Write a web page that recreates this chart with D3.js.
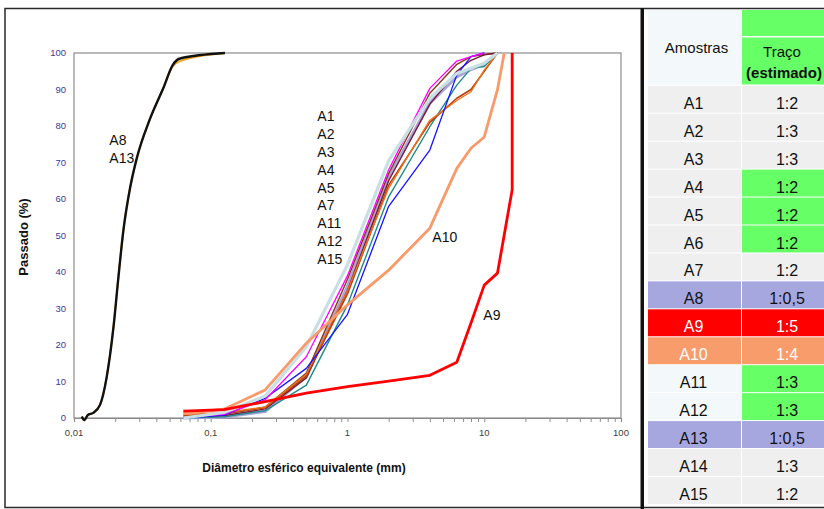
<!DOCTYPE html>
<html><head><meta charset="utf-8">
<script src="https://cdn.jsdelivr.net/npm/d3@7"></script>
<style>body{margin:0;background:#fff}svg{display:block}text{font-family:"Liberation Sans",Arial,sans-serif}</style>
</head><body>
<svg id="c" width="824" height="509"></svg>
<script>
// ---------- DATA ----------
const sieveSizes = [0.063, 0.125, 0.25, 0.5, 1, 2, 4, 6.3, 8, 10, 12.5];
const A1  = [0.2, 1.0, 5.0, 16.8, 39, 68, 90.3, 97.8, 99, 100, null];
const A2  = [0, 0.8, 5.4, 13.6, 28.4, 58, 73.4, 94, 99, 100, null];
const A3  = [0.3, 1.0, 3.0, 12.3, 38, 67, 89, 96.9, 99, 99.6, 100];
const A4  = [0, 0.3, 2.0, 9.0, 31, 60.6, 79.8, 91.2, 95.8, 96.3, 100];
const A5  = [1.0, 1.5, 3.0, 12.0, 35, 63, 81.6, 87, 89.4, 95.3, 100];
const A7  = [0.6, 1.3, 2.8, 11.5, 34, 63.8, 81, 87.6, 90, 95, 100];
const A11 = [0, 0.3, 1.8, 11.5, 36, 66, 86.3, 93.5, 95.5, 97, 100];
const A12 = [0.2, 0.6, 2.5, 11.0, 35, 65, 86, 95, 98, 99.5, 100];
const A15 = [0, 1.5, 6.0, 19.5, 42, 70.5, 87.6, 94.4, 95.8, 97.2, 100];

const a10Sizes = [0.063, 0.125, 0.25, 0.5, 1, 2, 4, 6.3, 8, 10, 12.5, 14];
const A10 = [1.2, 2.4, 7.7, 20.5, 31, 40.5, 52, 68.4, 73.9, 77, 90, 100];

const a9Sizes = [0.063, 0.125, 0.25, 0.5, 1, 2, 4, 6.3, 8, 10, 12.5, 16, 16];
const A9 = [1.9, 2.3, 4.5, 6.8, 8.6, 10.1, 11.7, 15.3, 26, 36.4, 39.7, 62.5, 100];

const laserSizes = [0.0114, 0.0119, 0.0126, 0.0138, 0.0155, 0.0173, 0.0194, 0.0211, 0.0229, 0.0257, 0.0287, 0.036, 0.045, 0.0527, 0.0596, 0.127];
const A8  = [0.4, -0.6, 0.8, 1.4, 3.6, 11, 24.6, 38.4, 51, 63, 71, 82, 90.4, 96.3, 97.8, 100];
const A13 = [0.4, -0.6, 0.8, 1.4, 3.6, 11, 24.6, 38.4, 51, 63, 71, 82, 90.4, 96.7, 98.5, 100];

const yTicks = [0, 10, 20, 30, 40, 50, 60, 70, 80, 90, 100];
const xTickLabels = ["0,01", "0,1", "1", "10", "100"];
const xMajor = [0.01, 0.1, 1, 10, 100];

const groupLabels = ["A1", "A2", "A3", "A4", "A5", "A7", "A11", "A12", "A15"];

const samples = ["A1","A2","A3","A4","A5","A6","A7","A8","A9","A10","A11","A12","A13","A14","A15"];
const traco = ["1:2","1:3","1:3","1:2","1:2","1:2","1:2","1:0,5","1:5","1:4","1:3","1:3","1:0,5","1:3","1:2"];

// ---------- STYLES ----------
const series = [
  {v: A11, sizes: sieveSizes, color: "#a9a4dc", w: 3.2},
  {v: A3,  sizes: sieveSizes, color: "#8b3a1a", w: 1.4},
  {v: A12, sizes: sieveSizes, color: "#7a1a3a", w: 1.4},
  {v: A4,  sizes: sieveSizes, color: "#1f8a8a", w: 1.4},
  {v: A7,  sizes: sieveSizes, color: "#b84010", w: 1.6},
  {v: A5,  sizes: sieveSizes, color: "#f07018", w: 1.3},
  {v: A2,  sizes: sieveSizes, color: "#1414ff", w: 1.3},
  {v: A1,  sizes: sieveSizes, color: "#ff00ff", w: 1.3},
  {v: A15, sizes: sieveSizes, color: "#c8dfe3", w: 3.2},
  {v: A10, sizes: a10Sizes,   color: "#fa9a6a", w: 2.8},
  {v: A9,  sizes: a9Sizes,    color: "#ff0000", w: 2.8},
  {v: A8,  sizes: laserSizes, color: "#f5a623", w: 1.8, smooth: true},
  {v: A13, sizes: laserSizes, color: "#111111", w: 2.4, smooth: true}
];
const cellColors = {gray: "#efefef", pale: "#f3f8fa", green: "#66ff66", lav: "#a7a7e0", red: "#ff0000", salmon: "#f99c6b"};
const rowStyle = ["gray","gray","gray","gray","gray","gray","gray","lav","red","salmon","pale","pale","lav","gray","gray"];
const rightStyle = ["gray","gray","gray","green","green","green","gray","lav","red","salmon","green","green","lav","gray","gray"];

// ---------- DRAW ----------
const svg = d3.select("#c");

const x = d3.scaleLog().domain([0.01, 100]).range([74, 621]);
const y = d3.scaleLinear().domain([0, 100]).range([418, 53]);

// outer frame
svg.append("rect").attr("x", 5).attr("y", 8.5).attr("width", 830).attr("height", 499)
  .attr("fill", "none").attr("stroke", "#2a2a2a").attr("stroke-width", 1.5);

// plot frame
svg.append("rect").attr("x", x(0.01)).attr("y", y(100)).attr("width", x(100) - x(0.01)).attr("height", y(0) - y(100))
  .attr("fill", "none").attr("stroke", "#8c8c8c").attr("stroke-width", 1.2);

// x axis
const minor = [];
for (let e = -2; e < 2; e++) for (let m = 1; m <= 9; m++) minor.push(m * Math.pow(10, e));
minor.push(100);
const xAxis = d3.axisBottom(x).tickValues(minor).tickSize(4).tickFormat("");
const gx = svg.append("g").attr("transform", `translate(0,${y(0)})`).call(xAxis);
gx.select(".domain").attr("stroke", "#8c8c8c").attr("stroke-width", 1.2);
gx.selectAll(".tick line").attr("stroke", "#8c8c8c");

svg.append("g").selectAll("text").data(xMajor).join("text")
  .attr("x", d => x(d)).attr("y", 435.5).attr("text-anchor", "middle")
  .attr("font-size", 9.5).attr("fill", "#404040").text((d, i) => xTickLabels[i]);

// y labels
svg.append("g").selectAll("text").data(yTicks).join("text")
  .attr("x", 66).attr("y", d => y(d) + 3.3).attr("text-anchor", "end")
  .attr("font-size", 9.5).attr("fill", "#3a3a9c").text(d => d);

// titles
svg.append("text").attr("transform", "translate(28,237) rotate(-90)").attr("text-anchor", "middle")
  .attr("font-size", 13).attr("font-weight", "bold").attr("fill", "#111").text("Passado (%)");
svg.append("text").attr("x", 304).attr("y", 472).attr("text-anchor", "middle")
  .attr("font-size", 12).attr("font-weight", "bold").attr("fill", "#111").text("Diâmetro esférico equivalente (mm)");

// lines
const gl = svg.append("g");
series.forEach(s => {
  const pts = s.sizes.map((d, i) => [d, s.v[i]]).filter(p => p[1] !== null && p[1] !== undefined);
  const line = d3.line().x(p => x(p[0])).y(p => y(p[1]));
  if (s.smooth) line.curve(d3.curveMonotoneX);
  gl.append("path").attr("d", line(pts)).attr("fill", "none")
    .attr("stroke", s.color).attr("stroke-width", s.w).attr("stroke-linejoin", "round");
});

// annotation labels
svg.append("g").selectAll("text").data(groupLabels).join("text")
  .attr("x", 317.3).attr("y", (d, i) => 120.7 + i * 17.95)
  .attr("font-size", 14).attr("fill", "#111").text(d => d);
[["A8", 109.3, 145], ["A13", 109.3, 162.7], ["A10", 432.3, 242.3], ["A9", 483.3, 320]].forEach(a => {
  svg.append("text").attr("x", a[1]).attr("y", a[2]).attr("font-size", 14).attr("fill", "#111").text(a[0]);
});

// separator bar
svg.append("rect").attr("x", 640.5).attr("y", 8).attr("width", 3.5).attr("height", 501).attr("fill", "#111");

// table
const tL = 648, tM = 742, tR = 830;
svg.append("rect").attr("x", tL).attr("y", 10).attr("width", tM - 1 - tL).attr("height", 74.5).attr("fill", cellColors.pale);
svg.append("rect").attr("x", tM).attr("y", 10).attr("width", tR - tM).attr("height", 26).attr("fill", cellColors.green);
svg.append("rect").attr("x", tM).attr("y", 37.5).attr("width", tR - tM).attr("height", 47).attr("fill", cellColors.green);
svg.append("text").attr("x", 696.5).attr("y", 53.3).attr("text-anchor", "middle").attr("font-size", 15).attr("fill", "#111").text("Amostras");
svg.append("text").attr("x", 782).attr("y", 57).attr("text-anchor", "middle").attr("font-size", 15).attr("fill", "#111").text("Traço");
svg.append("text").attr("x", 784).attr("y", 78).attr("text-anchor", "middle").attr("font-size", 15).attr("font-weight", "bold").attr("fill", "#111").text("(estimado)");

const rowH = 27.94, row0 = 85.8;
const rows = svg.append("g").selectAll("g").data(samples).join("g")
  .attr("transform", (d, i) => `translate(0,${row0 + i * rowH})`);
rows.append("rect").attr("x", tL).attr("y", 0).attr("width", tM - 1 - tL).attr("height", rowH - 1)
  .attr("fill", (d, i) => cellColors[rowStyle[i]]);
rows.append("rect").attr("x", tM).attr("y", 0).attr("width", tR - tM).attr("height", rowH - 1)
  .attr("fill", (d, i) => cellColors[rightStyle[i]]);
rows.append("text").attr("x", 693.5).attr("y", 23).attr("text-anchor", "middle").attr("font-size", 16)
  .attr("fill", (d, i) => (rowStyle[i] === "red" || rowStyle[i] === "salmon") ? "#fff" : "#111").text(d => d);
rows.append("text").attr("x", 787).attr("y", 23).attr("text-anchor", "middle").attr("font-size", 16)
  .attr("fill", (d, i) => (rowStyle[i] === "red" || rowStyle[i] === "salmon") ? "#fff" : "#111").text((d, i) => traco[i]);
</script>
</body></html>
